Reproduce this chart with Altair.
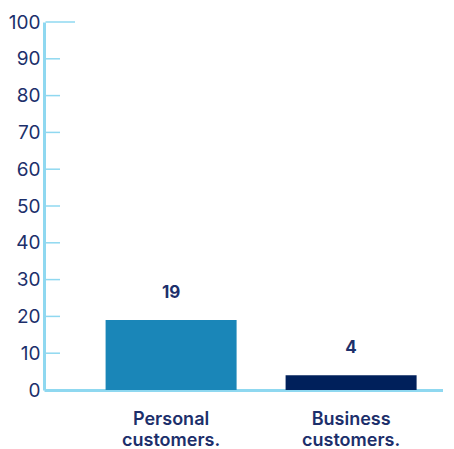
import altair as alt
import pandas as pd

categories = ["Personal customers.", "Business customers."]
values = [19, 4]
value_labels = ["19", "4"]
bar_colors = ["#1a86b8", "#00205b"]
tick_values = [0, 10, 20, 30, 40, 50, 60, 70, 80, 90]
top_tick = [100]

TEXT = "#1c2f6b"
AXIS = "#8fd8f0"
FONT = "Inter"

df = pd.DataFrame({"cat": categories, "value": values, "label": value_labels})
ticks_df = pd.DataFrame({"v": tick_values})
top_df = pd.DataFrame({"v": top_tick})

xscale = alt.Scale(domain=categories, paddingInner=0.2722, paddingOuter=0.2444, align=0.70)
yscale = alt.Scale(domain=[0, 100])

y_axis = alt.Axis(values=tick_values + top_tick, ticks=False, grid=False,
                  labelOverlap=False, labelFlush=False,
                  labelPadding=4, labelFont=FONT, labelFontSize=19,
                  labelFontWeight=400,
                  labelColor=TEXT, domainColor=AXIS, domainWidth=3)
x_axis = alt.Axis(labelAngle=0, ticks=False, labelPadding=20,
                  labelExpr="split(datum.value, ' ')",
                  labelFont=FONT, labelFontSize=18, labelFontWeight=600,
                  labelColor=TEXT, labelLineHeight=21,
                  domainColor=AXIS, domainWidth=3)

base = alt.Chart(df)

bars = base.mark_bar().encode(
    x=alt.X("cat:N", scale=xscale, sort=categories, title=None, axis=x_axis),
    y=alt.Y("value:Q", scale=yscale, title=None, axis=y_axis),
    color=alt.Color("cat:N", scale=alt.Scale(domain=categories, range=bar_colors), legend=None),
)

texts = base.mark_text(dy=-27, baseline="middle", font=FONT, fontSize=17,
                       fontWeight=700, color=TEXT).encode(
    x=alt.X("cat:N", scale=xscale, sort=categories, title=None, axis=x_axis),
    y=alt.Y("value:Q", scale=yscale, title=None, axis=y_axis),
    text="label:N",
)

inner_ticks = alt.Chart(ticks_df).mark_rule(color=AXIS, strokeWidth=1.5).encode(
    y=alt.Y("v:Q", scale=yscale, title=None, axis=y_axis),
    x=alt.value(1.5),
    x2=alt.value(16),
)

top_tick_rule = alt.Chart(top_df).mark_rule(color=AXIS, strokeWidth=1.5).encode(
    y=alt.Y("v:Q", scale=yscale, title=None, axis=y_axis),
    x=alt.value(1.5),
    x2=alt.value(31),
)

chart = alt.layer(bars, texts, inner_ticks, top_tick_rule).properties(
    width=399, height=368,
    padding={"top": 5, "left": 0, "right": 0, "bottom": 0},
).configure_view(stroke=None)

chart.save("out.html", embed_options={"renderer": "svg", "actions": False})
